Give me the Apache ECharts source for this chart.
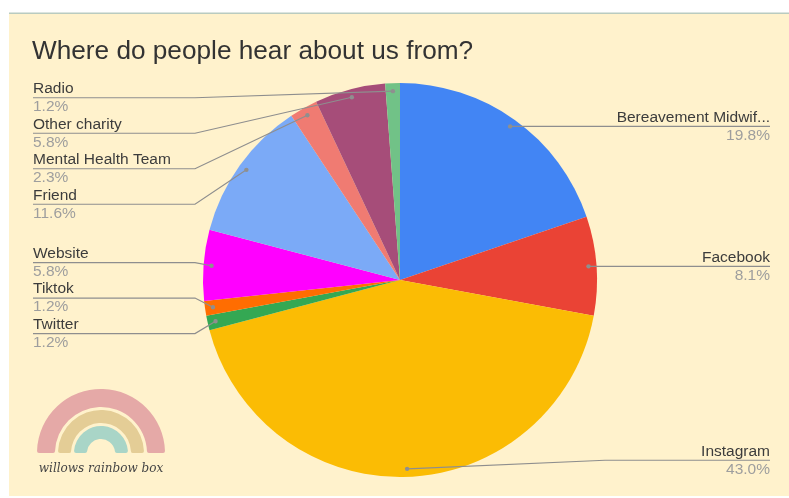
<!DOCTYPE html>
<html>
<head>
<meta charset="utf-8">
<script src="https://cdn.jsdelivr.net/npm/echarts@6/dist/echarts.min.js"></script>
<style>
html,body{margin:0;padding:0;background:#fff;}
#chart{width:789px;height:498px;}
</style>
</head>
<body>
<div id="chart"></div>
<script>
// ---- data ----
const categories = ['Bereavement Midwif...', 'Facebook', 'Instagram', 'Twitter', 'Tiktok', 'Website', 'Friend', 'Mental Health Team', 'Other charity', 'Radio'];
const percentages = [19.8, 8.1, 43.0, 1.2, 1.2, 5.8, 11.6, 2.3, 5.8, 1.2];
const sliceColors = ['#4285f4', '#ea4335', '#fbbc04', '#34a853', '#ff6d01', '#ff00ff', '#7baaf7', '#f07b72', '#a64d79', '#71c287'];
const titleText = 'Where do people hear about us from?';
const logoText = 'willows rainbow box';

// ---- layout constants ----
const W = 789, H = 498;
const CX = 400, CY = 280, R = 197, R_DOT = 189, ELBOW = 205;
const LABEL_GAP = 35.5;
const BOX = {left: 33, right: 19, top: 80, bottom: 20};
const VW = W - BOX.left - BOX.right, VH = H - BOX.top - BOX.bottom;
const centerPct = [((CX - BOX.left) / VW * 100) + '%', ((CY - BOX.top) / VH * 100) + '%'];
const FONT = 'Liberation Sans, Arial, sans-serif';

const chart = echarts.init(document.getElementById('chart'), null, {renderer: 'canvas'});

// label anchor points found by the library's pie layout (first pass)
let anchors = {};
let targetY = null;

const pieData = categories.map((c, i) => ({name: c, value: percentages[i], itemStyle: {color: sliceColors[i]}}));
const anchorData = categories.map((c, i) => ({name: c, value: percentages[i]}));

function baseGraphics() {
  const cxL = 101, cyL = 453;
  return [
    {type: 'rect', z: -10, silent: true, shape: {x: 9, y: 13, width: 780, height: 483}, style: {fill: '#fff2cc'}},
    {type: 'rect', z: -9, silent: true, shape: {x: 9, y: 12.5, width: 780, height: 1.5}, style: {fill: '#b9cbc0'}},
    {type: 'sector', z: -5, silent: true, shape: {cx: cxL, cy: cyL, r: 64, r0: 46, startAngle: Math.PI, endAngle: Math.PI * 2, clockwise: true, cornerRadius: 2}, style: {fill: '#e5a9a7'}},
    {type: 'sector', z: -5, silent: true, shape: {cx: cxL, cy: cyL, r: 43, r0: 30, startAngle: Math.PI, endAngle: Math.PI * 2, clockwise: true, cornerRadius: 2}, style: {fill: '#e4cd96'}},
    {type: 'sector', z: -5, silent: true, shape: {cx: cxL, cy: cyL, r: 27, r0: 14, startAngle: Math.PI, endAngle: Math.PI * 2, clockwise: true, cornerRadius: 2}, style: {fill: '#a9d5c7'}},
    {type: 'text', z: -5, silent: true, x: cxL, y: 469, style: {text: logoText, fill: '#444', font: 'italic 12px "DejaVu Serif", serif', align: 'center', verticalAlign: 'middle'}}
  ];
}

function dotGraphics() {
  return Object.keys(anchors).map(k => {
    const p = anchors[k];
    return {type: 'circle', z: 50, silent: true, shape: {cx: p[0], cy: p[1], r: 2.2}, style: {fill: '#8f8f8f'}};
  });
}

// spread overlapping labels of one side into balanced, non-overlapping clusters
function balanceSide(ids) {
  ids.sort((a, b) => anchors[a][1] - anchors[b][1]);
  const topB = BOX.top + LABEL_GAP / 2, botB = H - BOX.bottom - LABEL_GAP / 2;
  let clusters = ids.map(i => ({ids: [i], sum: anchors[i][1]}));
  const start = c => {
    const n = c.ids.length;
    let s = c.sum / n - (n - 1) * LABEL_GAP / 2;
    s = Math.max(topB, Math.min(botB - (n - 1) * LABEL_GAP, s));
    return s;
  };
  let merged = true;
  while (merged) {
    merged = false;
    for (let k = 0; k < clusters.length - 1; k++) {
      const a = clusters[k], b = clusters[k + 1];
      if (start(a) + a.ids.length * LABEL_GAP > start(b)) {
        clusters.splice(k, 2, {ids: a.ids.concat(b.ids), sum: a.sum + b.sum});
        merged = true;
        break;
      }
    }
  }
  clusters.forEach(c => {
    const s = start(c);
    c.ids.forEach((id, j) => { targetY[id] = s + j * LABEL_GAP; });
  });
}

function buildOption(withDots) {
  return {
    animation: false,
    backgroundColor: '#ffffff',
    title: {
      text: titleText, left: 32, top: 39, padding: 0,
      textStyle: {fontFamily: FONT, fontSize: 26.2, fontWeight: 'normal', color: '#333333'}
    },
    graphic: withDots ? baseGraphics().concat(dotGraphics()) : baseGraphics(),
    series: [
      {
        type: 'pie', silent: true,
        left: BOX.left, right: BOX.right, top: BOX.top, bottom: BOX.bottom,
        center: centerPct, radius: R, startAngle: 90, clockwise: true,
        label: {show: false}, labelLine: {show: false},
        itemStyle: {borderWidth: 0},
        data: pieData, z: 2
      },
      {
        type: 'pie', silent: true,
        left: BOX.left, right: BOX.right, top: BOX.top, bottom: BOX.bottom,
        center: centerPct, radius: R_DOT, startAngle: 90, clockwise: true,
        itemStyle: {color: 'rgba(0,0,0,0)', borderWidth: 0},
        z: 3,
        label: {
          show: true, position: 'outside', alignTo: 'edge', edgeDistance: 0, overflow: 'none',
          formatter: p => '{n|' + p.name + '}\n{p|' + p.value.toFixed(1) + '%}',
          rich: {
            n: {fontFamily: FONT, fontSize: 15.5, color: '#3c3c3c', lineHeight: 18},
            p: {fontFamily: FONT, fontSize: 15.5, color: '#9e9e9e', lineHeight: 18}
          }
        },
        labelLine: {show: true, length: 0, length2: 0, smooth: false, lineStyle: {color: '#8e8e8e', width: 1.2}},
        labelLayout: function (p) {
          if (!p.labelLinePoints) return {};
          const s = p.labelLinePoints[0];
          const r = p.labelRect;
          const left = s[0] < CX;
          if (!targetY) {
            anchors[p.dataIndex] = [s[0], s[1]];
          }
          let y = r.y + r.height / 2;
          const out = {};
          if (targetY && targetY[p.dataIndex] != null) {
            y = targetY[p.dataIndex];
            out.x = left ? r.x : r.x + r.width;
            out.y = y;
            out.align = left ? 'left' : 'right';
            out.verticalAlign = 'middle';
          }
          const ex = left ? CX - ELBOW : CX + ELBOW;
          const endX = left ? r.x : r.x + r.width;
          out.labelLinePoints = [[s[0], s[1]], [ex, y], [endX, y]];
          return out;
        },
        data: anchorData
      }
    ]
  };
}

chart.setOption(buildOption(false));
targetY = {};
const leftIds = [], rightIds = [];
Object.keys(anchors).forEach(k => { (anchors[k][0] < CX ? leftIds : rightIds).push(+k); });
balanceSide(leftIds);
balanceSide(rightIds);
chart.setOption(buildOption(true), true);
</script>
</body>
</html>
